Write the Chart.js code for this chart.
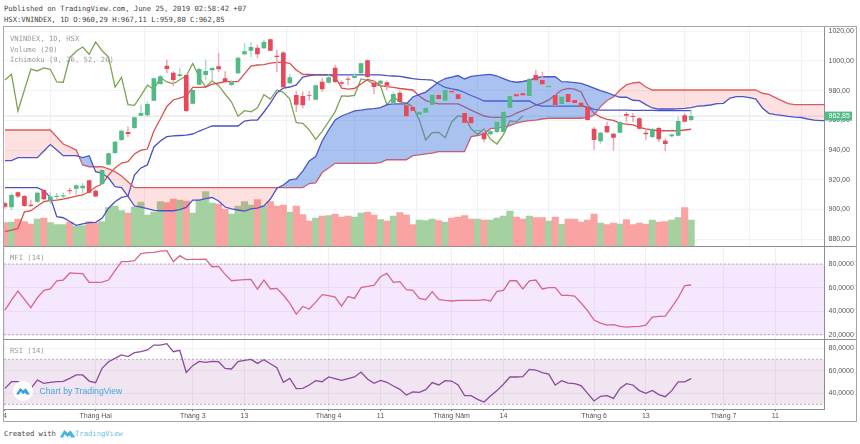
<!DOCTYPE html>
<html>
<head>
<meta charset="utf-8">
<title>VNINDEX</title>
<script src="https://cdn.jsdelivr.net/npm/chart.js@4"></script>
<style>
html, body { margin: 0; padding: 0; background: #fff; }
body { width: 860px; height: 444px; position: relative; overflow: hidden; }
.abs { position: absolute; white-space: pre; }
.mono { font-family: "DejaVu Sans Mono", monospace; font-size: 7.2px; line-height: 10px; }
.head { color: #444; left: 4px; }
.lbl { color: #9a9a9a; left: 10px; }
canvas { position: absolute; left: 4px; }
#frame { position: absolute; left: 3px; top: 26px; width: 852px; height: 394px; border: 1.5px solid #a5a5a5; }
.sep { position: absolute; left: 4px; height: 1px; background: #8f8f8f; }
</style>
</head>
<body>
<div class="abs mono head" style="top:4px">Published on TradingView.com, June 25, 2019 02:58:42 +07</div>
<div class="abs mono head" style="top:15px">HSX:VNINDEX, 1D O:960,29 H:967,11 L:959,80 C:962,85</div>

<canvas id="mainChart" width="852" height="219" style="top:27px"></canvas>
<canvas id="mfiChart" width="852" height="93" style="top:246px"></canvas>
<canvas id="rsiChart" width="852" height="82" style="top:339px"></canvas>

<div id="frame"></div>
<div class="sep" style="top:246px;width:852px"></div>
<div class="sep" style="top:339px;width:852px"></div>
<div class="sep" style="top:409px;width:820px"></div>

<div class="abs mono lbl" style="top:34px">VNINDEX, 1D, HSX</div>
<div class="abs mono lbl" style="top:44.5px">Volume (20)</div>
<div class="abs mono lbl" style="top:55px">Ichimoku (9, 26, 52, 26)</div>
<div class="abs mono lbl" style="top:253px">MFI (14)</div>
<div class="abs mono lbl" style="top:346px">RSI (14)</div>

<div class="abs" style="left:13px;top:381px;width:20px;height:20px;border-radius:10px;background:#fff"></div>
<svg class="abs" style="left:16px;top:386.5px" width="14" height="8" viewBox="0 0 30 18"><path d="M1 16 L9 3 L15 9 L21 4 L29 16 L22 16 L21 11 L15 15 L9 9 L6 16 Z" fill="#3fa0dc" stroke="#3fa0dc" stroke-width="2" stroke-linejoin="round"/></svg>
<div class="abs" style="left:39.5px;top:385px;font:8.7px/12px 'Liberation Sans',sans-serif;color:#4aa6dc">Chart by TradingView</div>

<div class="abs mono head" style="top:429px">Created with</div>
<svg class="abs" style="left:60px;top:429px" width="15" height="9" viewBox="0 0 30 18"><path d="M1 16 L9 3 L15 9 L21 4 L29 16 L22 16 L21 11 L15 15 L9 9 L6 16 Z" fill="#49b6e0" stroke="#49b6e0" stroke-width="2" stroke-linejoin="round"/></svg>
<div class="abs mono" style="left:75px;top:429px;color:#6fc0dd">TradingView</div>

<script>
// open, high, low, close
var candles = [
    [904.2,905,901,901.9],[901.5,910.9,899.7,909.8],[911.6,912,908,908.7],[909.1,909.6,901.9,902.4],[903.3,906.4,901.9,902.4],
    [905.3,912,904.6,911.3],[913.2,913.6,906.4,906.9],[906,911.3,904.2,908.7],[908.4,910.9,907.3,909.1],[908.7,911.3,907.3,909.6],
    [913,914.3,910.5,912.3],[914,916.7,909.8,916.3],[914.3,917.7,910.9,916],[919.7,919.9,910.9,911.3],[912.7,913.2,908.3,908.7],
    [917.2,926.8,916.8,926.6],[930.2,938.2,930,937.8],[938,946.1,937.8,945.6],[946.8,953.5,946.4,953],[952.2,955.7,949,950.8],
    [954.8,962.4,954.6,962],[963.1,970.3,962.9,964.9],[963.4,972.5,962.4,971],[973.2,988.5,973,988.3],[984.4,990.5,984.1,989.6],
    [996.7,1000.6,992,994.5],[992,992.7,983.1,987.1],[989.8,995.2,989.3,990.9],[990.5,990.8,966,966.3],[971.2,980.7,971,980.4],
    [984,995,983.8,994.5],[990.5,1000.6,987.1,993.2],[993.6,995.5,987.1,995.2],[996.3,1005,992.7,994.3],[988.3,992.7,985.1,985.8],
    [983.8,987.1,983.1,985.6],[991.6,1002.5,991.3,1002.1],[1004.4,1011.8,1003.9,1006.4],[1006.8,1012.2,1002.8,1009.3],[1008.8,1010.6,1002.1,1004.4],
    [1008.4,1014,1008.3,1012.7],[1014.5,1014.7,1006.6,1006.8],[1003.4,1007.3,992.7,1002.6],[1005.6,1006.3,982.1,982.3],[984.9,990.9,984.4,988.9],
    [977,979.7,965.8,970.5],[976.4,979.2,968.1,970.1],[977,979.2,973.2,976.6],[973.9,983.8,973.7,983.6],[986,988.3,979.2,980.9],
    [985.3,990.5,984.9,988.9],[995.4,997.2,985.4,985.8],[985.6,986.6,982.6,984.6],[988,989.3,983.8,987.3],[988.5,991.6,988.3,989.8],
    [991.6,998.7,991.3,998.3],[1000.4,1000.6,988.9,989.1],[985.3,987.1,977.7,982.4],[984.6,987.1,983.8,986.6],[985.6,986.6,980.4,983.3],
    [971.4,979,971.2,977.7],[978.6,979.7,972,972.3],[970.1,970.5,962.2,962.7],[969,969.6,965.9,966.5],[963.8,966.9,962.9,965.8],
    [965.1,969,964.6,968.5],[970.3,977.7,970,977.2],[977,978,974,974.3],[973.2,980.7,973,980.4],[979.7,980.4,977.7,978.8],
    [977.5,978,974,974.3],[964.9,965.6,957.9,958.4],[962.2,962.9,957.5,958],[952.9,954.5,952,953.5],[951.5,953.5,945.4,947.2],
    [950.6,953.5,950.1,952.6],[952.2,960.2,951.5,959.1],[952.2,966.2,951.8,965.8],[968.5,976.8,968.2,976.4],[977.5,978.4,975.7,976.2],
    [978.2,979,976.4,976.8],[976.4,988.2,976,987.8],[990.5,993.8,986.4,986.9],[987.1,992.5,983.8,984.2],[982.2,984.4,981.7,983.3],
    [977,977.4,970,970.3],[971,976.3,970.7,975.9],[977.7,978.2,972,972.3],[973.7,974.3,971,971.7],[971.9,973,968.3,969.2],
    [969.2,969.6,959.9,960.2],[954.4,955.5,940.5,946.8],[945.9,952.2,944.4,951.7],[956.2,958.9,951.5,951.9],[951,951.5,940,948.3],
    [951.7,959.2,951.5,958.9],[964.3,965.6,959.1,963.1],[962.9,964.7,959.1,962.2],[961.4,961.9,954.1,954.4],[951.7,953.5,946.8,950.6],
    [948.8,954.8,948.4,954.2],[954.8,955.5,945.6,947.2],[946.3,947.4,939.6,944.1],[949.3,950.8,948.8,950.4],[949.7,962.4,949.5,959.6],
    [963.4,964.7,958.9,959.1],[960.29,967.11,959.8,962.85]
];

// million shares
var volume = [
    117,120,134,122,110,135,139,117,107,107,119,100,102,122,115,122,192,199,177,164,
    194,219,155,170,222,217,235,229,225,165,230,272,214,209,184,160,200,222,205,232,
    202,222,200,205,170,199,157,125,139,149,152,159,145,149,145,165,170,155,132,125,
    149,167,155,107,130,127,135,127,119,139,145,152,135,134,130,130,140,150,174,144,
    135,150,142,142,124,145,108,135,134,119,129,159,115,107,114,109,132,107,114,109,
    129,119,122,129,142,192,129
];

var conversion = [
    914.7,914.7,914.7,914.7,914.7,914.7,912.7,908.2,895.2,894.5,892,889.4,890.3,891.2,891.4,894.1,900.9,905.3,908.2,909.1,
    923.2,928,930,942.1,946.1,949,949.5,949.8,950.1,950.8,952.8,954.5,956.2,956.2,956.2,956.2,956.2,959.5,960.2,960.2,
    965.6,971.6,978.4,981.7,982.4,983.8,989.1,990.1,990.5,990.5,990.5,990.5,990.5,990.5,990.5,990.5,990.5,990.5,990.5,990.1,
    989.8,989.5,988.8,988.1,987.6,987.3,987.1,984.4,982.1,981.1,980.4,978.7,976.7,975,973,973,973,973,973,973,
    973,973,970.6,969.6,969.6,969.6,969.6,969.6,969.6,969.6,969,967.3,966.9,966.8,966.8,966.8,966.8,966.7,966.7,966.7,
    966.7,966.6,966.6,966.6,966.6,966.5,966.5
];

var base = [
    885.1,886.2,887.3,898.4,899.2,902.4,905.3,906.1,906.4,907.1,908.1,909.1,909.8,912,915.2,917.2,923.2,928,931.3,932.2,
    937.4,940,940.7,952.8,960.9,969.3,973.7,975,976.4,982.2,982.2,982.4,984.4,985.1,986,986,986,991.2,996.5,997.2,
    997.5,998.5,999,999,998.3,993.8,990.9,990.8,990.7,990.5,990.5,989.3,981.7,981,981.4,984.4,987.5,986.4,983.4,982.7,
    982.1,981.4,980.9,980.4,976.4,973.3,972,971,971,971,971,969,966.9,964.9,962.9,962.2,962,962,962.6,964.9,
    966.5,968.3,970.3,971.6,973.7,977,980.4,981.5,981,979.1,970.3,964.7,962.2,960.7,960,958,957.5,956.9,955.2,954.2,
    953.5,953,953,953,953,953.5,954
];

var lagging = [
    987.1,990.9,966.3,980.4,994.5,993.2,995.2,994.3,985.8,985.6,1002.1,1006.4,1009.3,1004.4,1012.7,1006.8,1002.6,982.3,988.9,970.5,
    970.1,976.6,983.6,980.9,988.9,985.8,984.6,987.3,989.8,998.3,989.1,982.4,986.6,983.3,977.7,972.3,962.7,966.5,965.8,968.5,
    977.2,974.3,980.4,978.8,974.3,958.4,958,953.5,947.2,952.6,959.1,965.8,976.4,976.2,976.8,987.8,986.9,984.2,983.3,970.3,
    975.9,972.3,971.7,969.2,960.2,946.8,951.7,951.9,948.3,958.9,963.1,962.2,954.4,950.6,954.2,947.2,944.1,950.4,959.6,959.1,962.85
];

var leadA = [
    932.9,932.9,934.9,934.9,934.9,934.9,939.4,943.7,940,936.2,936.2,936.2,934.9,936.2,925.5,924.4,921.2,915.4,914.8,908.8,
    902.4,901.7,900.7,899.4,899.2,899.2,899.2,900,901.4,906.4,906.4,907.4,908.1,905.8,901.7,900.4,899.7,899,900.4,901,
    902.4,907.1,914.3,916.5,919.9,920.6,925.9,932.7,935.6,946.1,953.5,960.2,962.9,964.6,966.3,966.9,967.6,967.8,968.5,970.6,
    971,971,971,975.7,977.4,979,982.4,985.8,988.1,989.1,990.1,987.8,989.5,990,990.5,990.9,989.8,988.1,986.4,985.6,
    986.1,987.1,988.5,989.3,989.3,989.3,986,985.8,985.4,984.8,983.4,981.7,980,978.7,977,975.5,975.5,973.5,973.2,970.6,
    968.3,967.6,967.6,967.6,967.8,968.1,968.5,969.6,969.8,970.3,971.2,971.4,975,975.9,975.9,975.3,974.3,968.3,964.7,963.9,
    963.4,962.6,962.2,961.9,960.9,960.2,959.8,959.8
];

var leadB = [
    953.5,953.5,953.5,953.5,953.5,953.5,953.5,953.5,948.8,944.1,942.1,940,930,928.8,928.8,928.8,927.3,925.5,922.6,918.7,
    914.7,914.7,914.7,914.7,914.7,914.7,914.7,914.7,914.7,914.7,914.7,914.7,914.7,914.7,914.7,914.7,914.7,914.7,914.7,914.7,
    914.7,914.7,914.7,914.7,914.7,914.7,914.7,917.5,918,924.9,927.9,931.1,931.1,931.1,931.1,931.1,931.1,931.1,931.5,933.5,
    933.5,933.5,933.5,936.2,936.7,937.4,938,938.9,938.9,938.9,938.9,938.9,949,949.8,950.8,954.4,954.8,955.5,956.4,958.2,
    959.1,959.8,960.2,960.9,961.4,961.4,961.4,961.4,961.4,961.4,961.8,963.4,969.2,973.3,975.7,980.4,983.8,985.1,985.6,982.4,
    980.4,980.4,980.4,980.4,980.4,980.4,980.4,980.4,980.4,980.4,980.4,980.4,980.4,980.4,980.4,980.4,980.4,978.2,977.5,975.3,
    973.2,971.2,970.5,970.5,970.5,970.5,970.5,970.5
];

var mfi = [
    40.9,49.4,57.1,50,42.9,51.4,57.6,58.8,65.8,66.4,72.4,72.1,71.8,64.4,64.4,64.7,66.4,74.3,82,82,
    82.8,88.8,89.6,89.9,91,91.3,82,87.1,83.7,84,84,84.2,77.7,78,71.2,65.8,66.4,66.7,67,58.8,
    66.4,58.8,59.3,53.7,46.6,37.5,44,41.8,47.7,54,53.1,52,44.3,52.5,50.8,59.9,61,61.9,69.2,72.1,
    64.4,65,58.2,57.6,50.8,49.7,56.5,50,49.1,48.6,49.1,49.1,49.1,49.1,49.7,48.6,56.8,57.6,65.8,65.8,
    58.8,65.8,66.4,58.8,59.9,59.9,53.4,53.4,52.8,46.9,40.4,32.4,29.9,28.2,28.5,27.1,26.5,26.8,27.1,28.2,
    35,35.6,35.8,43.5,51.4,61.6,62.2
];

var rsi = [
    44.2,50.1,50.1,47.2,44.2,51.6,48.7,49.6,50.1,50.4,53.1,56.1,56.1,50.7,49.2,62,67.9,70.9,73.9,72.4,
    75.9,76.8,78.3,82.7,82.7,83.9,76.8,78,58.4,64.4,68.2,67.3,68.2,67.9,62,61.4,67.9,69.1,70,66.4,
    69.7,66.1,62.6,49.6,53.1,43.9,44.2,47.2,51,50.1,54.3,52.8,51.3,52.8,54.3,58.7,52.5,48.7,51.3,49.6,
    46.3,43.3,38.3,41,40.7,43,49.3,47.2,51,50.7,47.2,37.7,37.7,34.4,32,37.4,42.2,47.8,54.3,54.3,
    54.6,61.1,60.5,58.1,56.9,47.2,51,48.9,48.4,46.6,39.8,33,37.1,37.7,35.3,44.2,48.4,47.2,42.2,39.8,
    42.4,38.6,36.8,42.2,49.9,49.9,52.8
];

// bar index -> time axis label
var timeLabels = {
    0: '4', 14: 'Tháng Hai', 29: 'Tháng 3', 37: '13', 50: 'Tháng 4', 58: '11', 69: 'Tháng Năm',
    77: '14', 91: 'Tháng 6', 99: '13', 111: 'Tháng 7', 119: '11'
};

var UP = '#53b987', DOWN = '#e6495a';
var X_MIN = -0.154, X_MAX = 126.6;
var AXIS_FONT = { family: "'Liberation Sans', Arial, sans-serif", size: 7 };

function pts(arr) {
    return arr.map(function (y, i) { return { x: i, y: y }; });
}

function lineSet(label, arr, color, order) {
    return {
        type: 'line', label: label, data: pts(arr), borderColor: color, borderWidth: 1.3,
        pointRadius: 0, tension: 0, fill: false, order: order
    };
}

function xScale(showLabels) {
    return {
        type: 'linear', min: X_MIN, max: X_MAX, offset: false,
        grid: { color: '#eff1f4', lineWidth: 1, drawTicks: showLabels, tickLength: 2, tickColor: '#777' },
        border: { display: false },
        afterBuildTicks: function (s) {
            s.ticks = Object.keys(timeLabels).map(function (k) { return { value: +k }; });
        },
        afterFit: function (s) {
            s.height = showLabels ? 12 : 0;
            s.paddingLeft = 0; s.paddingRight = 0;
        },
        ticks: {
            display: showLabels, autoSkip: false, maxRotation: 0, padding: 1, color: '#555', font: AXIS_FONT,
            callback: function (v) { return timeLabels[v]; }
        }
    };
}

function yScale(min, max, values, decimals) {
    return {
        position: 'right', min: min, max: max,
        grid: { color: '#f2f3f6', drawTicks: false },
        border: { display: true, color: '#8f8f8f', width: 1 },
        afterBuildTicks: function (s) {
            s.ticks = values.map(function (v) { return { value: v }; });
        },
        afterFit: function (s) {
            s.width = 31.5;
            s.paddingTop = 0; s.paddingBottom = 0;
        },
        ticks: {
            padding: 4, color: '#555', font: AXIS_FONT, autoSkip: false,
            callback: function (v) { return v.toFixed(decimals).replace('.', ','); }
        }
    };
}

function baseOptions(scales) {
    return {
        responsive: false, animation: false, events: [], devicePixelRatio: 1,
        layout: { padding: 0 },
        plugins: { legend: { display: false }, tooltip: { enabled: false } },
        scales: scales
    };
}

// last price tag on the price axis
var priceTag = {
    id: 'priceTag',
    afterDraw: function (chart) {
        var last = candles[candles.length - 1];
        var y = chart.scales.y.getPixelForValue(last[3]);
        var c = chart.ctx;
        c.save();
        c.fillStyle = UP;
        c.fillRect(chart.chartArea.right, y - 4.5, 27.5, 9);
        c.fillStyle = '#fff';
        c.font = "7px 'Liberation Sans', Arial, sans-serif";
        c.textBaseline = 'middle';
        c.fillText(last[3].toFixed(2).replace('.', ','), chart.chartArea.right + 4, y + 0.3);
        c.restore();
    }
};

var colors = candles.map(function (c) { return c[3] >= c[0] ? UP : DOWN; });
var volColors = candles.map(function (c) { return c[3] >= c[0] ? '#a5d0a0' : '#f9a3a3'; });

var mainChart = new Chart(document.getElementById('mainChart').getContext('2d'), {
    data: {
        datasets: [
            // index 0-1: bodies and wicks, above the cloud
            {
                type: 'bar', label: 'body', grouped: false, categoryPercentage: 1, barPercentage: 0.72, order: 1, yAxisID: 'y',
                data: candles.map(function (c, i) { return { x: i, y: [c[0], c[3]] }; }),
                backgroundColor: colors
            },
            {
                type: 'bar', label: 'wick', grouped: false, categoryPercentage: 1, barPercentage: 1, maxBarThickness: 0.8, order: 2, yAxisID: 'y',
                data: candles.map(function (c, i) { return { x: i, y: [c[2], c[1]] }; }),
                backgroundColor: colors.map(function (c) { return c === UP ? '#a9dcc3' : '#f3a4ac'; })
            },
            // index 2: cloud fill is painted over the lines below it
            {
                type: 'line', label: 'Lead 1', data: pts(leadA), borderColor: '#4d55c8', borderWidth: 1.3,
                pointRadius: 0, tension: 0, order: 3, yAxisID: 'y',
                fill: { target: 3, above: 'rgba(66,119,222,0.45)', below: 'rgba(240,70,70,0.16)' }
            },
            Object.assign(lineSet('Lead 2', leadB, '#e25c5c', 4), { yAxisID: 'y' }),
            Object.assign(lineSet('Conversion', conversion, '#4a50c4', 5), { yAxisID: 'y' }),
            Object.assign(lineSet('Base', base, '#d9504f', 6), { yAxisID: 'y' }),
            Object.assign(lineSet('Lagging', lagging, '#7da457', 7), { yAxisID: 'y' }),
            {
                type: 'line', label: 'last', data: [{ x: X_MIN, y: 962.85 }, { x: X_MAX, y: 962.85 }],
                borderColor: '#dfe3e3', borderWidth: 1, pointRadius: 0, order: 8, yAxisID: 'y'
            },
            {
                type: 'bar', label: 'Volume', grouped: false, categoryPercentage: 1, barPercentage: 1, order: 9, yAxisID: 'yVol',
                data: volume.map(function (v, i) { return { x: i, y: v }; }),
                backgroundColor: volColors
            }
        ]
    },
    options: baseOptions({
        x: xScale(false),
        y: yScale(875.5, 1022.75, [880, 900, 920, 940, 960, 980, 1000, 1020], 2),
        yVol: { display: false, min: 0, max: 1095, position: 'right' }
    }),
    plugins: [priceTag]
});

function bandChart(id, label, arr, lineColor, bandTop, bandBottom, bandColor, min, max, ticks, showTime) {
    return new Chart(document.getElementById(id).getContext('2d'), {
        data: {
            datasets: [
                lineSet(label, arr, lineColor, 1),
                {
                    type: 'line', data: [{ x: X_MIN, y: bandTop }, { x: X_MAX, y: bandTop }], borderColor: '#b9b0bd',
                    borderWidth: 1, borderDash: [2, 2], pointRadius: 0, order: 2,
                    fill: { target: 2, above: bandColor }
                },
                {
                    type: 'line', data: [{ x: X_MIN, y: bandBottom }, { x: X_MAX, y: bandBottom }], borderColor: '#b9b0bd',
                    borderWidth: 1, borderDash: [2, 2], pointRadius: 0, order: 3, fill: false
                }
            ]
        },
        options: baseOptions({ x: xScale(showTime), y: yScale(min, max, ticks, 4) })
    });
}

var mfiChart = bandChart('mfiChart', 'MFI', mfi, '#d9658a', 80, 20, 'rgba(170,60,240,0.12)', 16.35, 95.3, [20, 40, 60, 80], false);
var rsiChart = bandChart('rsiChart', 'RSI', rsi, '#8c4a9e', 70, 30, 'rgba(150,70,150,0.14)', 25.85, 88.07, [40, 60, 80], true);
</script>
</body>
</html>
